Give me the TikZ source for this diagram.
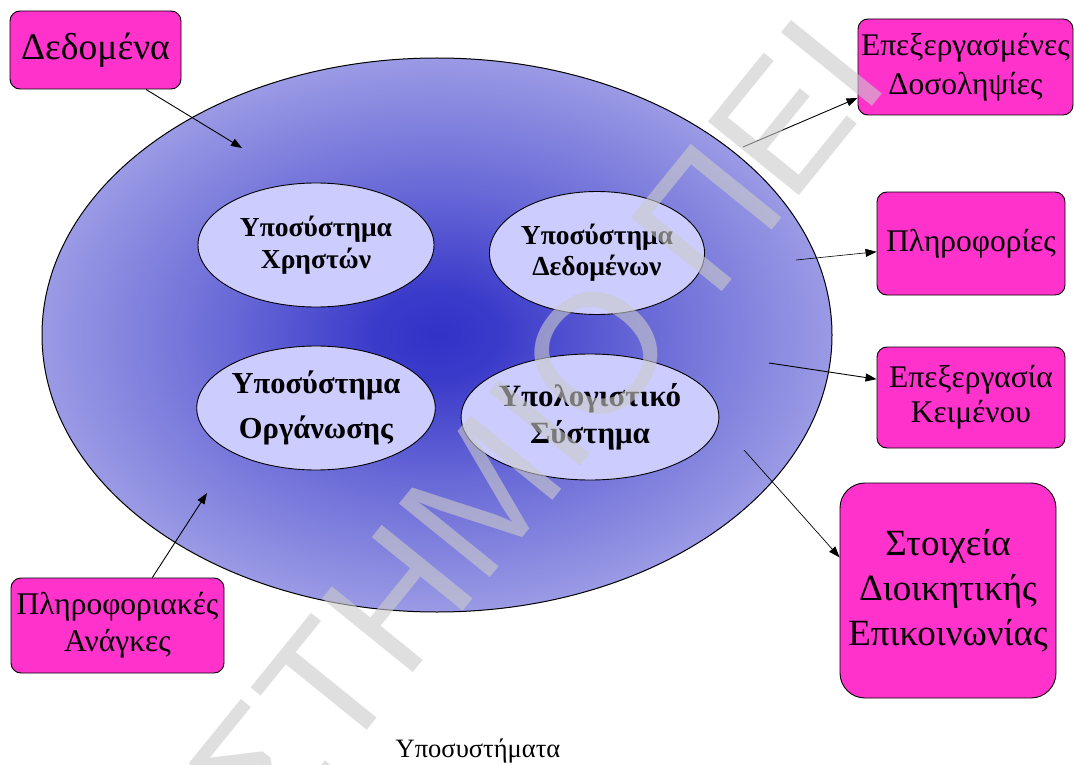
\documentclass[tikz,border=0pt]{standalone}
\usepackage{fontspec}
\setmainfont{Liberation Serif}
\newfontfamily\markfont{Liberation Sans}
\usetikzlibrary{arrows.meta,shapes.geometric}

\definecolor{boxpink}{RGB}{255,51,204}
\definecolor{subfill}{RGB}{204,204,255}
\definecolor{coreblue}{RGB}{50,50,200}
\definecolor{rimblue}{RGB}{158,158,230}
\definecolor{markgray}{RGB}{203,203,203}

% soft glow from the centre of the system towards its rim
\pgfdeclareradialshading{systemglow}{\pgfpoint{0bp}{0bp}}{%
  color(0bp)=(coreblue); color(4bp)=(coreblue!92!rimblue);
  color(13bp)=(coreblue!50!rimblue); color(26bp)=(rimblue);
  color(50bp)=(rimblue)}

\begin{document}
\begin{tikzpicture}[x=1pt,y=-1pt,
  infobox/.style={draw=black, line width=0.9pt, fill=boxpink,
    rounded corners=10pt, align=center, inner sep=0pt},
  subsys/.style={ellipse, draw=black, line width=0.9pt, fill=subfill,
    align=center, inner sep=0pt},
  flow/.style={-{Triangle[length=11pt,width=8pt]}, line width=0.9pt},
]
\path[use as bounding box, fill=white] (0,0) rectangle (1074,765);

% the whole system
\path[draw=black, line width=1pt, shading=systemglow]
  (437,335) ellipse [x radius=395pt, y radius=277pt];

% subsystems
\node[subsys, minimum width=236pt, minimum height=124pt,
  font=\fontsize{27.5}{32}\selectfont\bfseries] (users) at (316,245)
  {Υποσύστημα\\Χρηστών};
\node[subsys, minimum width=210pt, minimum height=123pt,
  font=\fontsize{27.5}{31}\selectfont\bfseries] (data) at (597,253)
  {Υποσύστημα\\Δεδομένων};
\node[subsys, minimum width=236pt, minimum height=124pt,
  font=\fontsize{30.5}{45}\selectfont\bfseries] (org) at (316,408)
  {Υποσύστημα\\Οργάνωσης};
\node[subsys, minimum width=230pt, minimum height=126pt,
  font=\fontsize{31}{37}\selectfont\bfseries] (comp) at (590,417)
  {Υπολογιστικό\\Σύστημα};

% inputs and outputs
\node[infobox, minimum width=171pt, minimum height=78pt,
  font=\fontsize{37.5}{40}\selectfont] (dedomena) at (95.5,50) {Δεδομένα};
\node[infobox, minimum width=215pt, minimum height=96pt,
  font=\fontsize{31.5}{39}\selectfont] (processed) at (965.5,67)
  {Επεξεργασμένες\\Δοσοληψίες};
\node[infobox, minimum width=188pt, minimum height=103pt,
  font=\fontsize{31.5}{39}\selectfont] (info) at (971,243.5) {Πληροφορίες};
\node[infobox, minimum width=188pt, minimum height=101pt,
  font=\fontsize{31.5}{35}\selectfont] (textproc) at (971,397.5)
  {Επεξεργασία\\Κειμένου};
\node[infobox, rounded corners=25pt, minimum width=216pt, minimum height=215pt,
  font=\fontsize{37}{45}\selectfont] (admin) at (948,590.5)
  {Στοιχεία\\Διοικητικής\\Επικοινωνίας};
\node[infobox, minimum width=213pt, minimum height=95pt,
  font=\fontsize{31.5}{37}\selectfont] (needs) at (117.5,625.5)
  {Πληροφοριακές\\Ανάγκες};

% connector ends inside the system
\coordinate (inData) at (242,148);
\coordinate (inNeeds) at (207,493);
\coordinate (outProc) at (743,147);
\coordinate (outInfo) at (796,260);
\coordinate (outText) at (769,363);
\coordinate (outAdmin) at (744,450);

\draw[flow] (dedomena.-38) -- (inData);
\draw[flow] (needs.54) -- (inNeeds);
\draw[flow] (outProc) -- (processed.196);
\draw[flow, line width=0.6pt] (outInfo) -- (info.185);
\draw[flow] (outText) -- (textproc.169.5);
\draw[flow, line width=0.7pt] (outAdmin) -- (admin.163);

% caption
\node[font=\fontsize{26.5}{30}\selectfont, anchor=base] (caption) at (478,757)
  {Υποσυστήματα};

% watermark across the page
\node[font=\markfont\fontsize{170}{170}\selectfont, text=markgray,
  text opacity=0.6, rotate=51, inner sep=0pt] (mark) at (537,427)
  {ΣΤΗΜΙΟ ΠΕΙ};
\end{tikzpicture}
\end{document}
